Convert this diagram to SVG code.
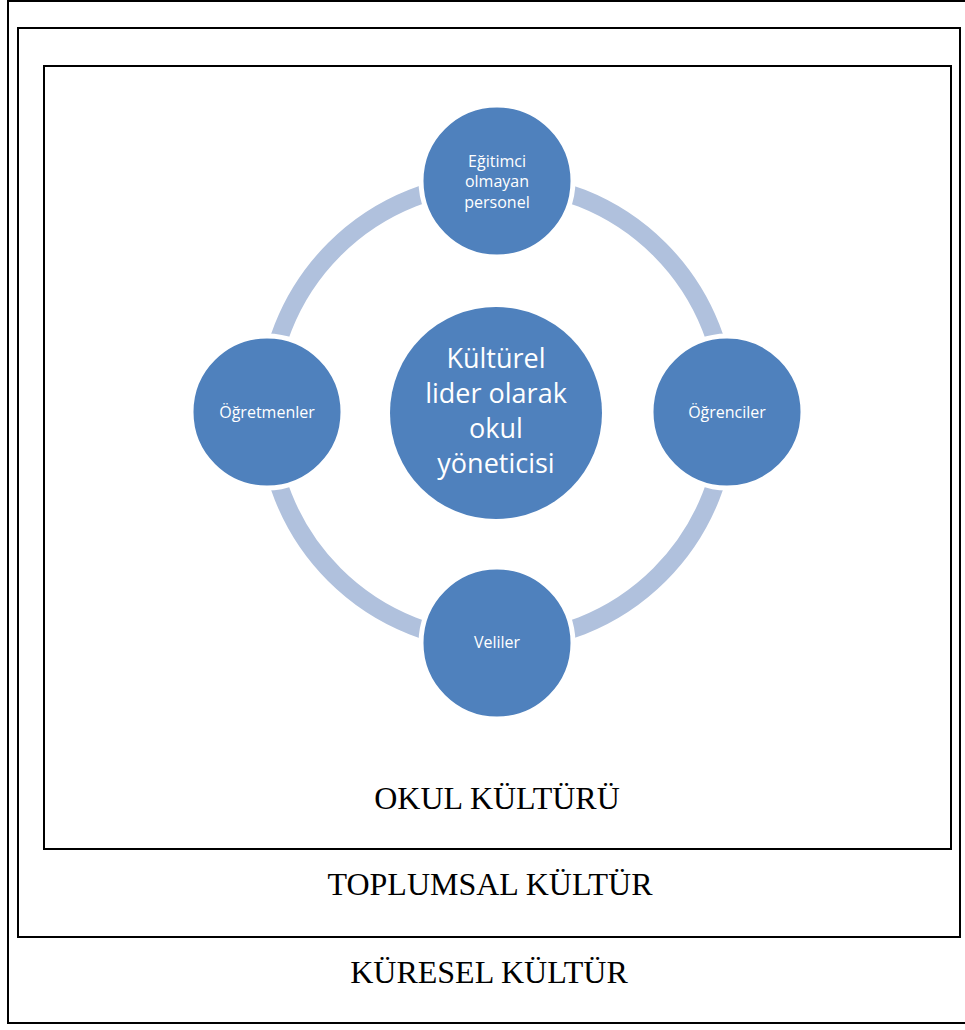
<svg xmlns="http://www.w3.org/2000/svg" width="965" height="1030" viewBox="0 0 965 1030">
<style>
.frame{fill:none;stroke:#000;stroke-width:2}
.node{fill:#4F81BD;stroke:#fff;stroke-width:5}
.ring{fill:none;stroke:#B0C1DD;stroke-width:18}
.nt{font-family:"Open Sans","Noto Sans",sans-serif;fill:#fff;text-anchor:middle;font-size:16px}
.ct{font-family:"Open Sans","Noto Sans",sans-serif;fill:#fff;text-anchor:middle;font-size:27px}
.lbl{font-family:"Liberation Serif","Times New Roman",serif;fill:#000;text-anchor:middle;font-size:32px}
</style>
<rect id="kuresel" class="frame" x="8" y="1" width="970" height="1022"/>
<rect id="toplumsal" class="frame" x="18" y="28" width="942" height="909"/>
<rect id="okul" class="frame" x="44" y="66" width="907" height="783"/>
<g id="connectors">
<circle class="ring" cx="497" cy="412" r="230"/>
</g>
<g id="node-center">
<circle cx="496" cy="413" r="106" fill="#4F81BD"/>
<text class="ct"><tspan x="496" y="368">Kültürel</tspan><tspan x="496" y="403">lider olarak</tspan><tspan x="496" y="438">okul</tspan><tspan x="496" y="473">yöneticisi</tspan></text>
</g>
<g id="node-top">
<circle class="node" cx="497" cy="181" r="76"/>
<text class="nt"><tspan x="497" y="167">Eğitimci</tspan><tspan x="497" y="187">olmayan</tspan><tspan x="497" y="208">personel</tspan></text>
</g>
<g id="node-right">
<circle class="node" cx="727" cy="412" r="76"/>
<text class="nt" x="727" y="418">Öğrenciler</text>
</g>
<g id="node-bottom">
<circle class="node" cx="497" cy="643" r="76"/>
<text class="nt" x="497" y="648">Veliler</text>
</g>
<g id="node-left">
<circle class="node" cx="267" cy="412" r="76"/>
<text class="nt" x="267" y="418">Öğretmenler</text>
</g>
<text class="lbl" x="497" y="809">OKUL KÜLTÜRÜ</text>
<text class="lbl" x="490" y="895">TOPLUMSAL KÜLTÜR</text>
<text class="lbl" x="489" y="983">KÜRESEL KÜLTÜR</text>
</svg>
